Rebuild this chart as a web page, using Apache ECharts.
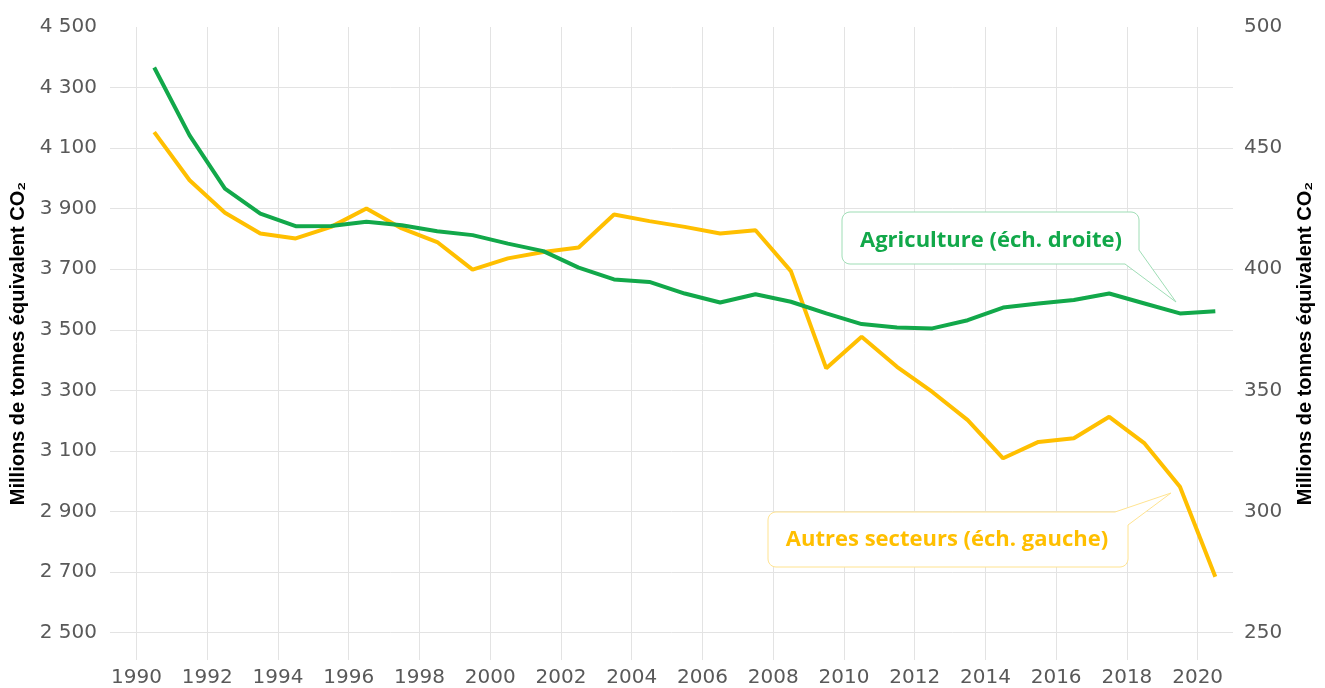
<!DOCTYPE html>
<html>
<head>
<meta charset="utf-8">
<script src="https://cdn.jsdelivr.net/npm/echarts@6/dist/echarts.min.js"></script>
<style>
  html, body { margin: 0; padding: 0; background: #fff; }
  #chart { width: 1325px; height: 688px; }
</style>
</head>
<body>
<div id="chart"></div>
<script>
// annual values, plotted at mid-year
let years = [1990, 1991, 1992, 1993, 1994, 1995, 1996, 1997, 1998, 1999,
  2000, 2001, 2002, 2003, 2004, 2005, 2006, 2007, 2008, 2009,
  2010, 2011, 2012, 2013, 2014, 2015, 2016, 2017, 2018, 2019, 2020]
// Autres secteurs, left scale
let autres = [4153, 3994, 3887, 3818, 3802, 3840, 3901, 3835, 3790, 3699,
  3736, 3757, 3772, 3881, 3859, 3840, 3818, 3829, 3694, 3373,
  3477, 3378, 3295, 3202, 3076, 3130, 3142, 3213, 3125, 2982, 2685]
// Agriculture, right scale
let agri = [483.3, 455.3, 433.3, 423.0, 417.8, 417.9, 419.6, 418.2, 415.7, 414.1,
  410.6, 407.5, 400.7, 395.8, 394.8, 390.0, 386.3, 389.7, 386.6, 381.8,
  377.4, 376.0, 375.6, 379.0, 384.2, 385.9, 387.3, 390.0, 385.9, 381.8, 382.7]

let xTicks = [1990, 1992, 1994, 1996, 1998, 2000, 2002, 2004, 2006, 2008,
  2010, 2012, 2014, 2016, 2018, 2020]
let leftTicks = [2500, 2700, 2900, 3100, 3300, 3500, 3700, 3900, 4100, 4300, 4500]
let rightTicks = [250, 300, 350, 400, 450, 500]

let green = "#12A84A"
let yellow = "#FFBF00"
let tickFont = { color: "#595959", fontSize: 20, fontFamily: "DejaVu Sans" }
let nameFont = { color: "#000", fontSize: 20, fontWeight: "bold", fontFamily: "Liberation Sans" }
let axisName = "Millions de tonnes équivalent CO₂"

function spaced(v) {
  return String(v).replace(/\B(?=(\d{3})+(?!\d))/g, " ")
}

// rounded box outline with a pointer replacing one corner
function callout(x, y, w, h, r, corner, tail) {
  let pts = []
  let arc = (cx, cy, a0) => {
    for (let i = 0; i <= 6; i++) {
      let a = a0 + (Math.PI / 2) * i / 6
      pts.push([cx + r * Math.cos(a), cy + r * Math.sin(a)])
    }
  }
  let corners = {
    tl: () => arc(x + r, y + r, Math.PI),
    tr: () => arc(x + w - r, y + r, -Math.PI / 2),
    br: () => arc(x + w - r, y + h - r, 0),
    bl: () => arc(x + r, y + h - r, Math.PI / 2)
  };
  ["tl", "tr", "br", "bl"].forEach(c => {
    if (c === corner) tail.forEach(p => pts.push(p))
    else corners[c]()
  })
  return pts
}

let myChart = echarts.init(document.getElementById("chart"))

myChart.setOption({
  animation: false,
  grid: { left: 110, right: 92, top: 27, bottom: 28 },
  xAxis: {
    type: "value",
    min: 1989.25,
    max: 2021,
    axisLine: { show: false },
    axisTick: { show: false, customValues: xTicks },
    axisLabel: { customValues: xTicks, margin: 8, formatter: v => String(v), ...tickFont },
    splitLine: { show: true, lineStyle: { color: "#E3E3E3", width: 1 } }
  },
  yAxis: [
    {
      type: "value",
      min: 2410,
      max: 4500,
      name: axisName,
      nameLocation: "middle",
      nameRotate: 90,
      nameGap: 82,
      nameTextStyle: nameFont,
      axisLine: { show: false },
      axisTick: { show: false, customValues: leftTicks.slice(0, -1) },
      axisLabel: { customValues: leftTicks, margin: 13, formatter: spaced, ...tickFont },
      splitLine: { show: true, lineStyle: { color: "#E3E3E3", width: 1 } }
    },
    {
      type: "value",
      min: 238.75,
      max: 500,
      position: "right",
      name: axisName,
      nameLocation: "middle",
      nameRotate: 90,
      nameGap: 62,
      nameTextStyle: nameFont,
      axisLine: { show: false },
      axisTick: { show: false, customValues: rightTicks },
      axisLabel: { customValues: rightTicks, margin: 11, ...tickFont },
      splitLine: { show: false }
    }
  ],
  series: [
    {
      type: "line",
      yAxisIndex: 0,
      data: years.map((y, i) => [y + 0.5, autres[i]]),
      symbol: "none",
      lineStyle: { color: yellow, width: 4 },
      z: 3
    },
    {
      type: "line",
      yAxisIndex: 1,
      data: years.map((y, i) => [y + 0.5, agri[i]]),
      symbol: "none",
      lineStyle: { color: green, width: 4 },
      z: 4
    }
  ],
  graphic: [
    {
      type: "polygon",
      z: 100,
      shape: { points: callout(842, 212, 297, 52, 8, "br", [[1139, 250], [1176, 302], [1125, 264]]) },
      style: { fill: "#fff", stroke: "#9EDDB5", lineWidth: 1 }
    },
    {
      type: "text",
      z: 101,
      x: 991,
      y: 241,
      style: {
        text: "Agriculture (éch. droite)",
        fill: green,
        font: "bold 22px 'Open Sans'",
        align: "center",
        verticalAlign: "middle"
      }
    },
    {
      type: "polygon",
      z: 100,
      shape: { points: callout(768, 512, 360, 55, 8, "tr", [[1115, 512], [1171, 493], [1128, 525]]) },
      style: { fill: "#fff", stroke: "#FFE390", lineWidth: 1 }
    },
    {
      type: "text",
      z: 101,
      x: 947,
      y: 540,
      style: {
        text: "Autres secteurs (éch. gauche)",
        fill: yellow,
        font: "bold 22px 'Open Sans'",
        align: "center",
        verticalAlign: "middle"
      }
    }
  ]
})
</script>
</body>
</html>
